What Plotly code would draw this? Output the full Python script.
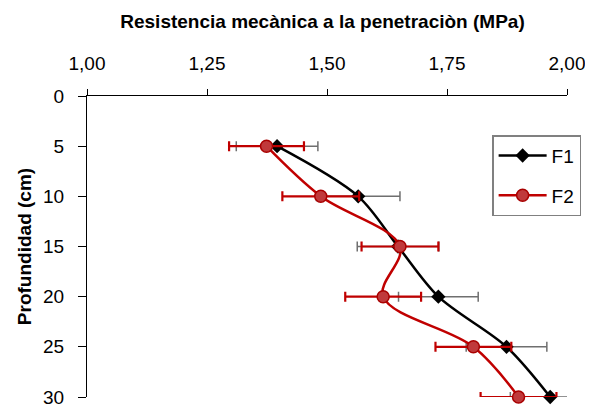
import plotly.graph_objects as go

depth = [5, 10, 15, 20, 25, 30]
f1_mean = [1.396, 1.565, 1.648, 1.732, 1.874, 1.965]
f1_err = [0.085, 0.087, 0.085, 0.083, 0.084, 0.083]
f2_mean = [1.374, 1.487, 1.652, 1.617, 1.805, 1.899]
f2_err = [0.078, 0.080, 0.080, 0.079, 0.079, 0.079]

x_ticks = [1.00, 1.25, 1.50, 1.75, 2.00]
x_ticklabels = ["1,00", "1,25", "1,50", "1,75", "2,00"]
y_ticks = [0, 5, 10, 15, 20, 25, 30]

FONT = "Liberation Sans, Arial, sans-serif"

# page body has an 8px default margin; figure sized to fit the 593x408 window
W, H = 585, 400

fig = go.Figure()
fig.add_trace(go.Scatter(
    x=f1_mean, y=depth, name="F1", mode="lines+markers",
    line=dict(color="#000000", width=2.5, shape="spline", smoothing=0.9),
    marker=dict(symbol="diamond", size=11, color="#000000"),
    error_x=dict(type="data", array=f1_err, color="#6f6f6f", thickness=1.5, width=5),
    legendgroup="a", cliponaxis=False,
))
fig.add_trace(go.Scatter(
    x=f2_mean, y=depth, name="F2", mode="lines+markers",
    line=dict(color="#c00000", width=2.5, shape="spline", smoothing=1.0),
    marker=dict(symbol="circle", size=12, color="#c0393b", line=dict(color="#a80000", width=1.5)),
    error_x=dict(type="data", array=f2_err, color="#c00000", thickness=2.2, width=5),
    legendgroup="b", cliponaxis=False,
))

fig.update_layout(
    width=W, height=H,
    margin=dict(l=79, r=26, t=88, b=11, pad=0),
    paper_bgcolor="white", plot_bgcolor="white",
    font=dict(family=FONT, size=19, color="#000000"),
    title=dict(text="<b>Resistencia mecànica a la penetraciòn (MPa)</b>",
               x=314.5 / W, xanchor="center", xref="container",
               y=1 - 13 / H, yanchor="middle", yref="container",
               font=dict(size=19, family=FONT)),
    showlegend=True,
    legend=dict(x=0.844, y=0.87, xanchor="left", yanchor="top",
                bordercolor="#808080", borderwidth=1.5, bgcolor="white",
                font=dict(size=19, family=FONT), tracegroupgap=12, itemwidth=48),
    xaxis=dict(range=[1, 2], side="top", tickvals=x_ticks, ticktext=x_ticklabels,
               showgrid=False, zeroline=False, showline=True, linecolor="#000000", linewidth=1,
               ticks="outside", ticklen=6, tickcolor="#000000", tickfont=dict(size=19),
               ticklabelstandoff=11, automargin=False, ticklabeloverflow="allow"),
    yaxis=dict(range=[30, 0], tickvals=y_ticks, showgrid=False, zeroline=False,
               showline=True, linecolor="#000000", linewidth=1,
               ticks="outside", ticklen=8, tickcolor="#000000", tickfont=dict(size=19),
               ticklabelstandoff=10, automargin=False, ticklabeloverflow="allow",
               title=dict(text="<b>Profundidad (cm)</b>", font=dict(size=19), standoff=6)),
)

fig.write_html("out.html")
